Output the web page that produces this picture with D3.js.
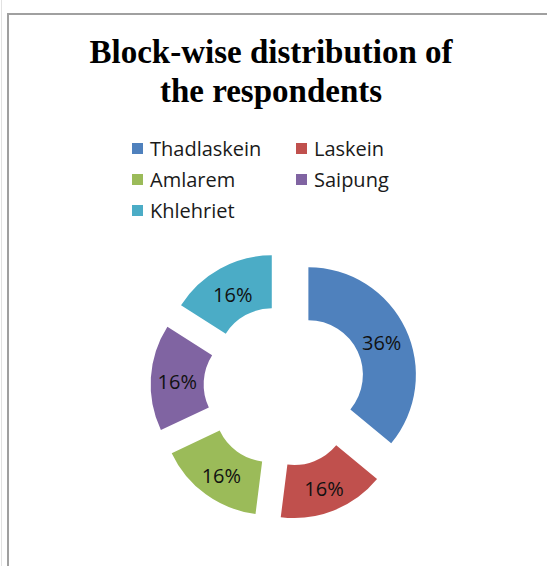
<!DOCTYPE html>
<html>
<head>
<meta charset="utf-8">
<script src="https://cdn.jsdelivr.net/npm/d3@7"></script>
<style>
  html, body { margin: 0; padding: 0; background: #fff; }
  svg { display: block; }
</style>
</head>
<body>
<svg id="chart" width="547" height="566"></svg>
<script>
// Respondents by block (percent of total)
const blocks = ["Thadlaskein", "Laskein", "Amlarem", "Saipung", "Khlehriet"];
const shares = [36, 16, 16, 16, 16];
const blockColors = ["#4F81BD", "#C0504D", "#9BBB59", "#8064A2", "#4BACC6"];
const titleLines = ["Block-wise distribution of", "the respondents"];

const svg = d3.select("#chart");
const W = 547, H = 566;

// Chart-area frame
svg.append("line").attr("x1", 1.5).attr("x2", 1.5).attr("y1", 0).attr("y2", H)
  .attr("stroke", "#e2e2e2").attr("stroke-width", 1);
svg.append("path")
  .attr("d", `M8,${H} V14 H${W}`)
  .attr("fill", "none").attr("stroke", "#a0a0a0").attr("stroke-width", 2);

// Title
const title = svg.append("text")
  .attr("text-anchor", "middle")
  .attr("font-family", "'Liberation Serif', 'Times New Roman', serif")
  .attr("font-weight", "bold")
  .attr("font-size", 33)
  .attr("fill", "#000");
titleLines.forEach((t, i) => {
  title.append("tspan").attr("x", 271).attr("y", 63 + i * 39).text(t);
});

// Legend: two columns, row-major order
const legendFont = "'Open Sans', 'Liberation Sans', sans-serif";
const colX = [132, 296];
const rowY = [156, 187, 218];
const legend = svg.append("g");
blocks.forEach((name, i) => {
  const x = colX[i % 2], y = rowY[Math.floor(i / 2)];
  const g = legend.append("g");
  g.append("rect").attr("x", x).attr("y", y - 13).attr("width", 11).attr("height", 11)
    .attr("fill", blockColors[i]);
  g.append("text").attr("x", x + 18).attr("y", y)
    .attr("font-family", legendFont).attr("font-size", 20)
    .attr("fill", "#1a1a1a").text(name);
});

// Exploded doughnut
const cx = 284.5, cy = 386;
const outerR = 107.5, innerR = 54.5, explode = 26.4;

const pie = d3.pie().sort(null).value(d => d.value);
const arcs = pie(blocks.map((name, i) => ({ name, value: shares[i], color: blockColors[i] })));
const arc = d3.arc().innerRadius(innerR).outerRadius(outerR);

const ring = svg.append("g").attr("transform", `translate(${cx},${cy})`);
const slice = ring.selectAll("g.slice").data(arcs).join("g")
  .attr("class", "slice")
  .attr("transform", d => {
    const mid = (d.startAngle + d.endAngle) / 2;
    return `translate(${explode * Math.sin(mid)},${-explode * Math.cos(mid)})`;
  });

slice.append("path").attr("d", arc).attr("fill", d => d.data.color);

slice.append("text")
  .attr("transform", d => {
    const [x, y] = arc.centroid(d);
    return `translate(${x},${y + 3})`;
  })
  .attr("text-anchor", "middle")
  .attr("dy", "0.35em")
  .attr("font-family", legendFont)
  .attr("font-size", 20)
  .attr("fill", "#111")
  .text(d => d.data.value + "%");
</script>
</body>
</html>
